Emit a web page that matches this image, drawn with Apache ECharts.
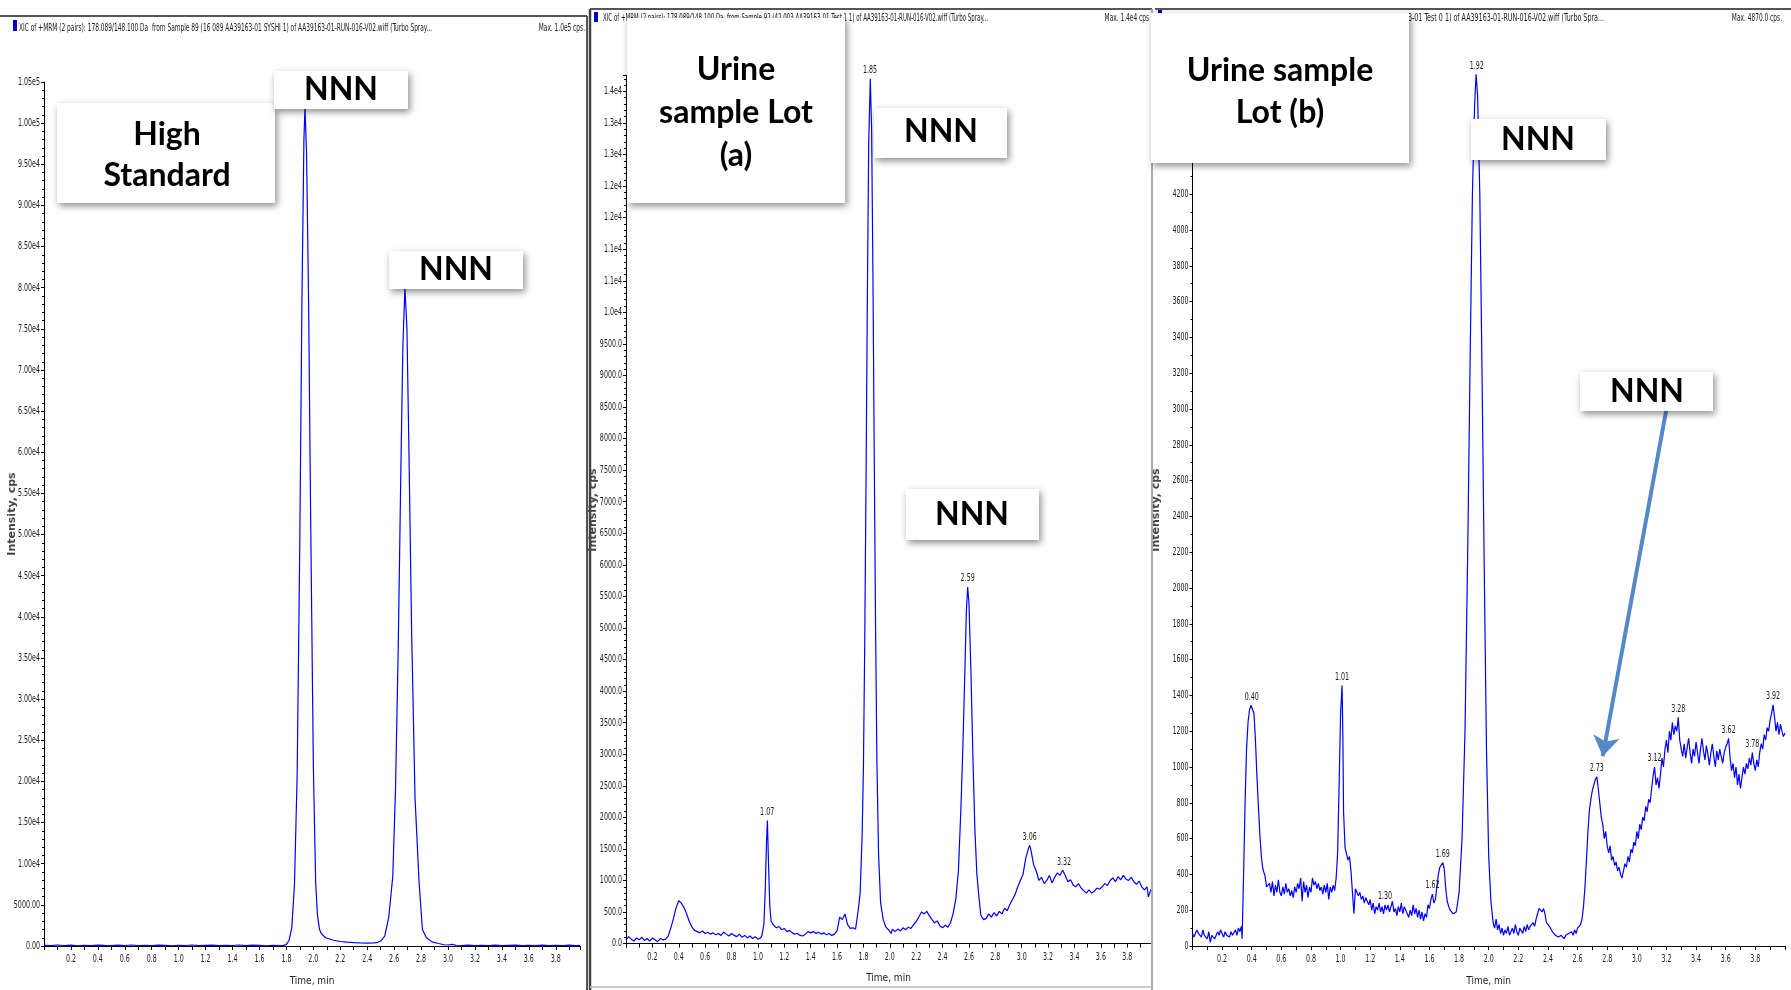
<!DOCTYPE html>
<html><head><meta charset="utf-8">
<script src="https://cdn.jsdelivr.net/npm/echarts@6/dist/echarts.min.js"></script>
<style>html,body{margin:0;padding:0;background:#fff}#c{width:1791px;height:990px}</style>
</head><body><div id="c"></div>
<script>
// ---------------- DATA ----------------
const headerTexts = [
  'XIC of +MRM (2 pairs): 178.089/148.100 Da  from Sample 89 (16 089 AA39163-01 SYSHI 1) of AA39163-01-RUN-016-V02.wiff (Turbo Spray...',
  'XIC of +MRM (2 pairs): 178.089/148.100 Da  from Sample 92 (42 003 AA39163-01 Test 1 1) of AA39163-01-RUN-016-V02.wiff (Turbo Spray...',
  'XIC of +MRM (2 pairs): 178.089/148.100 Da  from Sample 93 (43 003 AA39163-01 Test 0 1) of AA39163-01-RUN-016-V02.wiff (Turbo Spra...'
];
const header3Visible = '-01 Test 0 1) of AA39163-01-RUN-016-V02.wiff (Turbo Spra...';
const maxTexts = ['Max. 1.0e5 cps.', 'Max. 1.4e4 cps', 'Max. 4870.0 cps.'];
const xTitle = 'Time, min';
const yTitle = 'Intensity, cps';
const boxTitles = {
  high: 'High\nStandard',
  lotA: 'Urine\nsample Lot\n(a)',
  lotB: 'Urine sample\nLot (b)',
  nnn: 'NNN'
};

// High Standard trace [time, intensity]
const highStdTrace = [
  [0.00,80],[0.05,40],[0.10,120],[0.15,60],[0.20,100],[0.25,30],[0.30,90],[0.35,50],[0.40,110],[0.45,70],
  [0.50,40],[0.55,100],[0.60,60],[0.65,120],[0.70,50],[0.75,90],[0.80,40],[0.85,110],[0.90,70],[0.95,30],
  [1.00,90],[1.05,60],[1.10,120],[1.15,40],[1.20,80],[1.25,110],[1.30,50],[1.35,90],[1.40,60],[1.45,120],
  [1.50,40],[1.55,100],[1.60,70],[1.65,30],[1.70,90],[1.75,60],[1.78,80],
  [1.80,200],[1.82,700],[1.84,2200],[1.86,7500],[1.88,21000],[1.90,50000],[1.915,78000],[1.93,98000],
  [1.938,102000],[1.95,96000],[1.965,78000],[1.98,52000],[2.00,22000],[2.017,7800],[2.03,3800],[2.046,2000],
  [2.06,1500],[2.09,1000],[2.12,850],[2.15,700],[2.20,550],[2.25,480],[2.30,420],[2.35,380],[2.40,350],
  [2.45,380],[2.48,450],[2.50,600],[2.53,1200],[2.56,3500],[2.59,8500],[2.61,19000],[2.63,36000],[2.65,58000],
  [2.665,73000],[2.68,80000],[2.695,75000],[2.71,60000],[2.73,38000],[2.755,18000],[2.785,7800],[2.81,2000],
  [2.84,1000],[2.88,500],[2.93,300],[2.97,150],[3.00,120],[3.03,200],[3.06,90],[3.10,60],[3.15,100],
  [3.20,50],[3.25,90],[3.30,60],[3.35,110],[3.40,40],[3.45,80],[3.50,100],[3.55,50],[3.60,90],[3.65,60],
  [3.70,110],[3.75,40],[3.80,80],[3.85,60],[3.90,100],[3.95,50],[3.98,80]
];
const highStdPeaks = [[1.94,102000],[2.68,80000]];

// Urine sample Lot (a) trace
const lotATrace = [
  [0.00,60],[0.02,110],[0.04,70],[0.06,40],[0.08,90],[0.10,60],[0.12,100],[0.14,50],[0.16,80],[0.18,40],
  [0.20,90],[0.22,60],[0.24,30],[0.26,80],[0.28,60],[0.30,70],[0.32,120],[0.34,250],[0.36,400],[0.38,570],
  [0.40,680],[0.42,640],[0.44,570],[0.46,470],[0.48,350],[0.50,260],[0.52,210],[0.54,190],[0.56,170],[0.58,200],
  [0.60,160],[0.62,180],[0.64,150],[0.66,170],[0.68,140],[0.70,160],[0.72,130],[0.74,180],[0.76,150],[0.78,120],
  [0.80,160],[0.82,130],[0.84,110],[0.86,150],[0.88,100],[0.90,130],[0.92,90],[0.94,120],[0.96,80],[0.98,110],
  [1.00,70],[1.02,90],[1.03,130],[1.045,300],[1.055,800],[1.065,1600],[1.072,1950],[1.08,1300],[1.09,600],
  [1.10,350],[1.12,290],[1.14,250],[1.16,270],[1.18,220],[1.20,240],[1.22,190],[1.24,210],[1.26,170],[1.28,150],
  [1.30,160],[1.32,130],[1.34,120],[1.36,150],[1.38,190],[1.40,170],[1.42,190],[1.44,160],[1.46,180],[1.48,150],
  [1.50,170],[1.52,140],[1.54,160],[1.56,130],[1.58,150],[1.60,200],[1.62,420],[1.64,380],[1.66,470],[1.68,300],
  [1.70,240],[1.72,250],[1.74,230],[1.76,520],[1.775,800],[1.79,1700],[1.80,2800],[1.81,4800],[1.82,7400],
  [1.83,10300],[1.84,12700],[1.852,13700],[1.862,12900],[1.872,10600],[1.882,7700],[1.892,5000],[1.902,2900],
  [1.915,1400],[1.93,650],[1.95,380],[1.97,260],[1.99,220],[2.01,160],[2.02,230],[2.04,190],[2.06,230],
  [2.08,200],[2.10,250],[2.12,220],[2.14,260],[2.16,240],[2.18,300],[2.20,350],[2.22,420],[2.24,500],[2.26,470],
  [2.28,510],[2.30,440],[2.32,380],[2.34,330],[2.36,360],[2.38,280],[2.40,250],[2.42,290],[2.44,260],[2.46,330],
  [2.48,480],[2.50,700],[2.52,1150],[2.54,2200],[2.555,3200],[2.57,4400],[2.58,5250],[2.59,5650],[2.60,5400],
  [2.615,4300],[2.63,2950],[2.645,1800],[2.66,1100],[2.675,750],[2.69,450],[2.71,380],[2.73,400],[2.75,470],
  [2.77,420],[2.79,490],[2.81,440],[2.83,510],[2.85,470],[2.87,560],[2.89,520],[2.91,620],[2.93,700],[2.95,780],
  [2.97,900],[2.99,1000],[3.01,1100],[3.03,1350],[3.05,1500],[3.06,1557],[3.07,1480],[3.09,1250],[3.11,1150],
  [3.13,1000],[3.15,1050],[3.17,950],[3.19,1000],[3.21,1080],[3.23,960],[3.25,1050],[3.27,1120],[3.29,1080],
  [3.31,1163],[3.33,1080],[3.35,980],[3.37,1010],[3.39,930],[3.41,900],[3.43,950],[3.45,880],[3.47,840],
  [3.49,800],[3.51,850],[3.53,800],[3.55,830],[3.57,880],[3.59,860],[3.61,900],[3.63,950],[3.65,920],[3.67,1000],
  [3.69,1040],[3.71,980],[3.73,1060],[3.75,1010],[3.77,1080],[3.79,1020],[3.81,1000],[3.83,1050],[3.85,980],
  [3.87,940],[3.89,990],[3.91,900],[3.93,850],[3.95,900],[3.96,740],[3.98,860]
];
const lotAPeaks = [[1.07,1950],[1.85,13700],[2.59,5650],[3.06,1557],[3.32,1163]];

// Urine sample Lot (b) trace
const lotBTrace = [
  [0.00,70],[0.01,50],[0.02,60],[0.03,90],[0.04,70],[0.05,80],[0.06,50],[0.07,90],[0.08,60],[0.09,70],
  [0.10,40],[0.11,80],[0.12,20],[0.13,60],[0.14,70],[0.15,40],[0.16,60],[0.17,80],[0.18,60],[0.19,90],
  [0.20,70],[0.21,50],[0.22,80],[0.23,60],[0.24,70],[0.25,50],[0.26,80],[0.27,60],[0.28,70],[0.29,90],
  [0.30,60],[0.31,100],[0.32,80],[0.33,110],[0.335,40],[0.345,400],[0.355,800],[0.365,1100],[0.375,1250],
  [0.385,1320],[0.395,1345],[0.405,1334],[0.415,1300],[0.425,1150],[0.435,950],[0.445,780],[0.455,620],
  [0.465,500],[0.475,430],[0.49,390],[0.50,330],[0.52,350],[0.53,300],[0.54,360],[0.55,280],[0.56,340],
  [0.57,300],[0.58,370],[0.59,300],[0.60,280],[0.61,330],[0.62,290],[0.63,350],[0.64,300],[0.65,320],
  [0.66,280],[0.67,310],[0.68,270],[0.69,330],[0.70,300],[0.71,350],[0.72,320],[0.73,380],[0.74,250],
  [0.75,360],[0.76,300],[0.77,340],[0.78,270],[0.79,330],[0.80,300],[0.81,380],[0.82,340],[0.83,360],
  [0.84,320],[0.85,350],[0.86,310],[0.87,330],[0.88,290],[0.89,340],[0.90,300],[0.91,350],[0.92,260],
  [0.93,330],[0.94,300],[0.95,340],[0.96,310],[0.97,380],[0.98,520],[0.99,900],[1.00,1300],[1.01,1455],
  [1.015,1200],[1.02,750],[1.03,550],[1.04,560],[1.05,480],[1.06,500],[1.07,420],[1.08,300],[1.09,180],
  [1.10,320],[1.11,300],[1.12,280],[1.13,300],[1.14,260],[1.15,280],[1.16,240],[1.17,270],[1.18,250],
  [1.19,230],[1.20,260],[1.21,200],[1.22,240],[1.23,180],[1.24,220],[1.25,200],[1.26,240],[1.27,190],
  [1.28,220],[1.29,180],[1.30,230],[1.31,200],[1.32,230],[1.33,190],[1.34,220],[1.35,250],[1.36,190],
  [1.37,210],[1.38,170],[1.39,220],[1.40,190],[1.41,240],[1.42,180],[1.43,220],[1.44,200],[1.45,210],
  [1.46,160],[1.47,200],[1.48,170],[1.49,230],[1.50,180],[1.51,210],[1.52,160],[1.53,200],[1.54,150],
  [1.55,190],[1.56,140],[1.57,180],[1.58,160],[1.59,230],[1.60,210],[1.61,260],[1.62,290],[1.63,240],
  [1.64,260],[1.65,330],[1.66,400],[1.67,440],[1.68,450],[1.69,466],[1.70,430],[1.71,320],[1.72,250],
  [1.73,220],[1.74,200],[1.75,190],[1.76,180],[1.77,175],[1.78,190],[1.79,240],[1.80,300],[1.82,600],
  [1.84,1200],[1.86,2300],[1.875,3300],[1.89,4200],[1.905,4700],[1.915,4870],[1.925,4750],[1.94,4200],
  [1.955,3200],[1.97,2100],[1.985,1100],[2.00,500],[2.015,250],[2.03,130],[2.04,100],[2.05,150],[2.06,90],
  [2.07,120],[2.08,70],[2.09,100],[2.10,60],[2.11,90],[2.12,70],[2.13,110],[2.14,60],[2.15,80],[2.16,100],
  [2.17,70],[2.18,120],[2.19,80],[2.20,60],[2.21,100],[2.22,90],[2.23,70],[2.24,110],[2.25,80],[2.26,120],
  [2.27,90],[2.28,110],[2.29,100],[2.30,130],[2.31,110],[2.32,150],[2.33,180],[2.34,210],[2.35,200],
  [2.36,190],[2.37,210],[2.38,180],[2.39,130],[2.40,140],[2.41,110],[2.42,100],[2.43,80],[2.44,90],
  [2.45,60],[2.46,70],[2.47,50],[2.48,40],[2.49,60],[2.50,50],[2.51,40],[2.52,60],[2.53,50],[2.54,70],
  [2.55,60],[2.56,80],[2.57,60],[2.58,90],[2.59,70],[2.60,100],[2.61,90],[2.62,120],[2.63,150],[2.64,220],
  [2.65,330],[2.66,480],[2.67,640],[2.68,760],[2.69,820],[2.70,870],[2.71,900],[2.72,930],[2.73,945],
  [2.74,880],[2.75,800],[2.76,720],[2.77,680],[2.78,600],[2.79,640],[2.80,560],[2.81,520],[2.82,560],
  [2.83,480],[2.84,500],[2.85,450],[2.86,470],[2.87,420],[2.88,440],[2.89,400],[2.90,380],[2.91,420],
  [2.92,460],[2.93,440],[2.94,500],[2.95,470],[2.96,540],[2.97,520],[2.98,580],[2.99,560],[3.00,640],
  [3.01,600],[3.02,680],[3.03,650],[3.04,720],[3.05,700],[3.06,780],[3.07,750],[3.08,820],[3.09,800],
  [3.10,880],[3.11,950],[3.12,1000],[3.13,900],[3.14,940],[3.15,880],[3.16,960],[3.17,1050],[3.18,1000],
  [3.19,1100],[3.20,1150],[3.21,1080],[3.22,1200],[3.23,1150],[3.24,1250],[3.25,1180],[3.26,1230],
  [3.27,1200],[3.28,1277],[3.29,1150],[3.30,1100],[3.31,1060],[3.32,1130],[3.33,1050],[3.34,1110],
  [3.35,1160],[3.36,1080],[3.37,1020],[3.38,1100],[3.39,1060],[3.40,1140],[3.41,1080],[3.42,1020],
  [3.43,1100],[3.44,1160],[3.45,1090],[3.46,1040],[3.47,1120],[3.48,1070],[3.49,1010],[3.50,1080],
  [3.51,1130],[3.52,1060],[3.53,1000],[3.54,1090],[3.55,1040],[3.56,1100],[3.57,1060],[3.58,1020],
  [3.59,1080],[3.60,1110],[3.61,1130],[3.62,1160],[3.63,1050],[3.64,980],[3.65,1020],[3.66,940],
  [3.67,1000],[3.68,900],[3.69,960],[3.70,880],[3.71,940],[3.72,1000],[3.73,960],[3.74,1020],[3.75,990],
  [3.76,1050],[3.77,1010],[3.78,1080],[3.79,1020],[3.80,980],[3.81,1040],[3.82,1000],[3.83,1080],
  [3.84,1130],[3.85,1100],[3.86,1180],[3.87,1150],[3.88,1220],[3.89,1200],[3.90,1260],[3.91,1300],
  [3.92,1347],[3.93,1280],[3.94,1200],[3.95,1250],[3.96,1180],[3.97,1240],[3.98,1200],[3.99,1170],[4.00,1190]
];
const lotBPeaks = [[0.40,1345],[1.01,1455],[1.30,230],[1.62,290],[1.69,466],[1.92,4870],[2.73,945],
  [3.12,1000],[3.28,1277],[3.62,1160],[3.78,1080],[3.92,1347]];
// arrow in panel 3: from [time,intensity] to [time,intensity]
const arrowFrom = [3.20, 3000];
const arrowTo = [2.77, 1060];

// ---------------- RENDER ----------------
const narrow = "'Liberation Sans Narrow','DejaVu Sans Condensed','Liberation Sans',sans-serif";
const boxFont = "Lato, 'Open Sans', sans-serif";
const traceColor = '#0000ff';
const labelSize = 11;

function measure(text, size, family, weight) {
  const ctx = document.createElement('canvas').getContext('2d');
  ctx.font = (weight || 'normal') + ' ' + size + 'px ' + family;
  return ctx.measureText(text).width;
}
const labelScale = 22 / measure('1.05e5', labelSize, narrow);

function fmtP1(v) {
  if (v < 10000) return v.toFixed(2);
  const e = Math.floor(Math.log10(v));
  return (v / Math.pow(10, e)).toFixed(2) + 'e' + e;
}
function fmtP2(v) {
  if (v < 10000) return v.toFixed(1);
  return (Math.round(v / 1000) / 10).toFixed(1) + 'e4';
}
function fmtP3(v) { return String(Math.round(v)); }

const grids = [
  {left: 44, top: 82, width: 536, height: 864},
  {left: 626, top: 75.6, width: 525, height: 868},
  {left: 1192.5, top: 51, width: 592.4, height: 895}
];
const xMax = [3.98, 3.98, 4.0];
const yMax = [105000, 13750, 5000];
const yInt = [5000, 500, 200];
const ySplit = [5, 5, 2];
const yFmt = [fmtP1, fmtP2, fmtP3];
const yTitlePos = [[12, 514], [593, 510], [1156, 510]];

const axisLineStyle = {color: '#000', width: 1};
const xAxes = grids.map((g, i) => ({
  type: 'value', gridIndex: i, min: 0, max: xMax[i], interval: 0.1,
  axisLine: {show: true, onZero: false, lineStyle: axisLineStyle},
  axisTick: {show: true, length: 4, lineStyle: axisLineStyle},
  axisLabel: {show: false},
  splitLine: {show: false},
  name: xTitle, nameLocation: 'middle', nameGap: 30,
  nameTextStyle: {fontFamily: narrow, fontSize: 10, color: '#222'}
}));
const yAxes = grids.map((g, i) => ({
  type: 'value', gridIndex: i, min: 0, max: yMax[i], interval: yInt[i],
  axisLine: {show: true, lineStyle: axisLineStyle},
  axisTick: {show: true, length: 3, lineStyle: axisLineStyle},
  minorTick: {show: true, splitNumber: ySplit[i], length: 2, lineStyle: {color: '#000'}},
  axisLabel: {show: false},
  splitLine: {show: false}
}));

const traces = [highStdTrace, lotATrace, lotBTrace];
const peaks = [highStdPeaks, lotAPeaks, lotBPeaks];
const series = [];
traces.forEach((tr, i) => {
  const s = {
    type: 'line', xAxisIndex: i, yAxisIndex: i, data: tr, showSymbol: false, symbol: 'none',
    lineStyle: {color: traceColor, width: 1.2}, z: 3, silent: true
  };
  if (i === 2) {
    s.markLine = {
      silent: true, symbol: ['none', 'arrow'], symbolSize: 20, z: 90,
      lineStyle: {color: '#5588c8', width: 4, type: 'solid'},
      itemStyle: {color: '#5588c8'},
      label: {show: false},
      data: [[{coord: arrowFrom}, {coord: arrowTo}]]
    };
  }
  series.push(s);
});

const chart = echarts.init(document.getElementById('c'), null, {renderer: 'canvas'});
chart.setOption({
  animation: false,
  backgroundColor: '#fff',
  grid: grids.map(g => Object.assign({containLabel: false, outerBoundsMode: 'none'}, g)),
  xAxis: xAxes,
  yAxis: yAxes,
  series
});

// graphic elements
const G = [];
function line(x1, y1, x2, y2, color, w) {
  G.push({type: 'line', shape: {x1, y1, x2, y2}, style: {stroke: color, lineWidth: w}, z: 60, silent: true});
}
function rect(x, y, w, h, color) {
  G.push({type: 'rect', shape: {x, y, width: w, height: h}, style: {fill: color}, z: 61, silent: true});
}
function smallText(text, x, y, align, scale, vAlign, size) {
  G.push({type: 'text', x, y, scaleX: scale || 1, z: 50, silent: true,
    style: {text, fontFamily: narrow, fontSize: size || 10, fill: '#1a1a1a', align, textAlign: align,
      verticalAlign: vAlign || 'middle', textVerticalAlign: vAlign || 'middle'}});
}
function box(x, y, w, h, text, cx, cy, lh) {
  G.push({type: 'rect', shape: {x, y, width: w, height: h}, z: 100, silent: true,
    style: {fill: '#fff', shadowBlur: 7, shadowColor: 'rgba(0,0,0,0.45)', shadowOffsetX: 2, shadowOffsetY: 3}});
  G.push({type: 'text', x: cx, y: cy, z: 101, silent: true,
    style: {text, fontFamily: boxFont, fontWeight: 'bold', fontSize: 32, lineHeight: lh || 42, fill: '#000',
      align: 'center', textAlign: 'center', verticalAlign: 'middle', textVerticalAlign: 'middle'}});
}

// tick labels and peak labels placed through the chart's own scales
grids.forEach((g, i) => {
  const toPx = (x, y) => chart.convertToPixel({gridIndex: i}, [x, y]);
  const nY = Math.floor(yMax[i] / yInt[i] + 1e-9);
  for (let k = 0; k <= nY; k++) {
    const v = k * yInt[i];
    const p = toPx(0, v);
    smallText(yFmt[i](v), p[0] - 4, p[1], 'right', labelScale, 'middle', labelSize);
  }
  for (let k = 2; k / 10 < xMax[i] - 1e-9; k += 2) {
    const p = toPx(k / 10, 0);
    smallText((k / 10).toFixed(1), p[0], p[1] + 8, 'center', labelScale, 'top', labelSize);
  }
  peaks[i].forEach(pk => {
    const p = toPx(pk[0], pk[1]);
    smallText(pk[0].toFixed(2), p[0], p[1] - 3, 'center', labelScale, 'bottom', labelSize);
  });
});

// panel frames
line(0, 16, 587, 16, '#555', 2);
line(587, 16, 587, 990, '#555', 2);
line(590, 9, 590, 990, '#444', 2.5);
line(590, 9, 1152, 9, '#555', 2);
line(1152, 9, 1152, 990, '#aaa', 2);
line(590, 987, 1152, 987, '#bbb', 1.5);
line(1155, 9, 1791, 9, '#555', 2);
rect(13, 20, 4, 11, '#0000cc');
rect(594, 12, 4, 10, '#0000cc');
rect(1158, 10, 4, 4, '#0000cc');

// y axis titles
yTitlePos.forEach(p => {
  G.push({type: 'text', x: p[0], y: p[1], rotation: Math.PI / 2, z: 50, silent: true,
    style: {text: yTitle, fontFamily: "'DejaVu Sans', sans-serif", fontWeight: 'bold', fontSize: 11,
      fill: '#444', align: 'center', textAlign: 'center', verticalAlign: 'middle', textVerticalAlign: 'middle'}});
});

// headers
const hs1 = 413 / measure(headerTexts[0], 10, narrow);
const hs2 = 385 / measure(headerTexts[1], 10, narrow);
const hs3 = 192 / measure(header3Visible, 10, narrow);
smallText(headerTexts[0], 19, 28.5, 'left', hs1);
smallText(headerTexts[1], 603, 18, 'left', hs2);
smallText(headerTexts[2], 1604, 18, 'right', hs3);
smallText(maxTexts[0], 585, 28.5, 'right', hs1);
smallText(maxTexts[1], 1149, 18, 'right', hs1);
smallText(maxTexts[2], 1782, 18, 'right', hs1);

// annotation boxes
box(57, 103, 218, 100, boxTitles.high, 167, 155, 41);
box(274, 71, 134, 38, boxTitles.nnn, 341, 90);
box(389, 251, 134, 38, boxTitles.nnn, 456, 270);
box(627, 18, 218, 185, boxTitles.lotA, 736, 113, 43);
box(874, 108, 133, 50, boxTitles.nnn, 941, 132);
box(906, 489, 133, 51, boxTitles.nnn, 972, 515);
box(1151, 13, 258, 150, boxTitles.lotB, 1280, 92, 42);
box(1471, 119, 135, 41, boxTitles.nnn, 1538, 140);
box(1580, 372, 133, 39, boxTitles.nnn, 1647, 392);

chart.setOption({graphic: {elements: G}});
</script></body></html>
